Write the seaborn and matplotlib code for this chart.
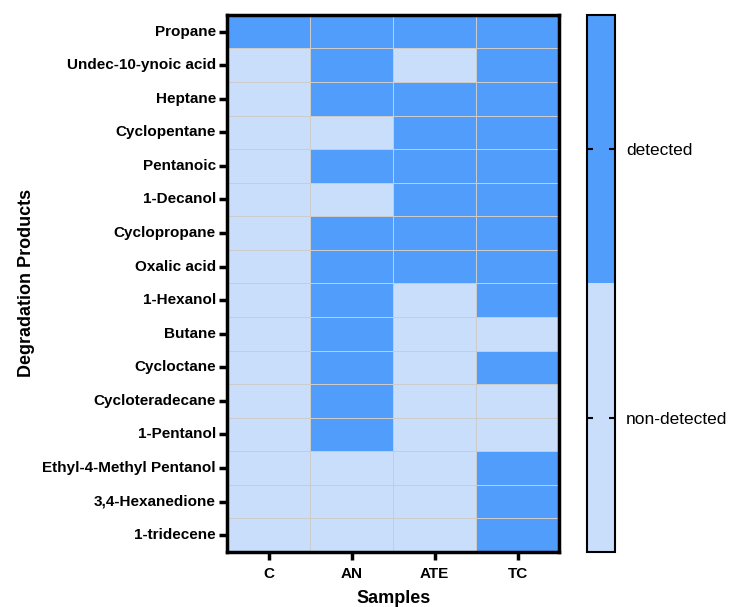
import numpy as np
import pandas as pd
import seaborn as sns
import matplotlib
matplotlib.use("Agg")
import matplotlib.pyplot as plt
from matplotlib.colors import ListedColormap

products = ["Propane", "Undec-10-ynoic acid", "Heptane", "Cyclopentane", "Pentanoic",
            "1-Decanol", "Cyclopropane", "Oxalic acid", "1-Hexanol", "Butane",
            "Cycloctane", "Cycloteradecane", "1-Pentanol", "Ethyl-4-Methyl Pentanol",
            "3,4-Hexanedione", "1-tridecene"]
samples = ["C", "AN", "ATE", "TC"]

# 1 = detected, 0 = non-detected
C   = [1, 0, 0, 0, 0, 0, 0, 0, 0, 0, 0, 0, 0, 0, 0, 0]
AN  = [1, 1, 1, 0, 1, 0, 1, 1, 1, 1, 1, 1, 1, 0, 0, 0]
ATE = [1, 0, 1, 1, 1, 1, 1, 1, 0, 0, 0, 0, 0, 0, 0, 0]
TC  = [1, 1, 1, 1, 1, 1, 1, 1, 1, 0, 1, 0, 0, 1, 1, 1]

status_labels = ["non-detected", "detected"]

df = pd.DataFrame({"C": C, "AN": AN, "ATE": ATE, "TC": TC}, index=products)[samples]

sns.set_theme(style="white")
plt.rcParams["font.family"] = ["Liberation Sans", "DejaVu Sans"]
plt.rcParams["text.color"] = "black"
plt.rcParams["axes.labelcolor"] = "black"
plt.rcParams["xtick.color"] = "black"
plt.rcParams["ytick.color"] = "black"

fig = plt.figure(figsize=(7.3, 6.07), dpi=100)
ax = fig.add_axes([0.311, 0.0906, 0.455, 0.885])
cax = fig.add_axes([0.804, 0.0906, 0.038, 0.885])

cmap = ListedColormap(["#c9defa", "#519dfb"])
sns.heatmap(df, ax=ax, cbar_ax=cax, cmap=cmap, vmin=0, vmax=1,
            linewidths=0.6, linecolor="#cccccc")

for s in ax.spines.values():
    s.set_visible(True)
    s.set_linewidth(2.5)
    s.set_color("black")

ax.tick_params(axis="both", which="major", length=6, width=2.5, color="black",
               left=True, bottom=True, pad=2)
ax.set_yticklabels(products, rotation=0, fontsize=11, fontweight="bold")
ax.set_xticklabels(samples, rotation=0, fontsize=11, fontweight="bold")
ax.tick_params(axis="x", pad=5)
ax.set_xlabel("Samples", fontsize=13, fontweight="bold", labelpad=6)
ax.set_ylabel("Degradation Products", fontsize=13, fontweight="bold", labelpad=5)

cbar = ax.collections[0].colorbar
cbar.set_ticks([0.25, 0.75])
cbar.set_ticklabels(status_labels)
cbar.outline.set_linewidth(1.5)
cbar.outline.set_edgecolor("black")
cax.set_axisbelow(False)
cax.tick_params(axis="y", direction="in", length=4, width=1.5, color="black",
                right=True, left=True, labelsize=12.5, pad=8)

fig.savefig("out.png", dpi=100)
